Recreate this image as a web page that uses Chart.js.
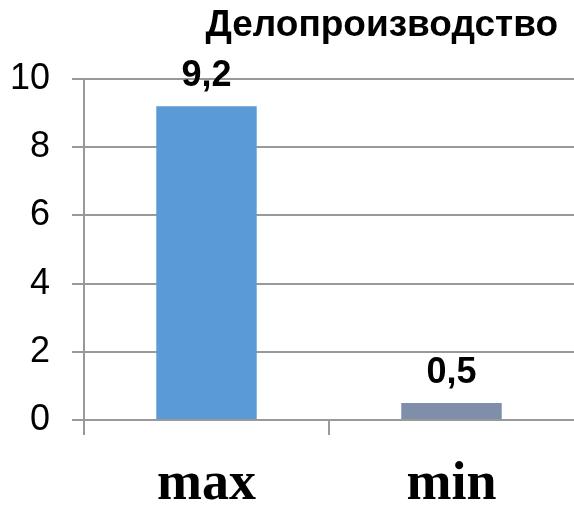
<!DOCTYPE html>
<html>
<head>
<meta charset="utf-8">
<script src="https://cdn.jsdelivr.net/npm/chart.js@4"></script>
<style>
  html, body { margin: 0; padding: 0; background: #fff; }
  #wrap { width: 574px; height: 505px; }
</style>
</head>
<body>
<div id="wrap"><canvas id="myChart"></canvas></div>
<script>
const title = 'Делопроизводство';
const labels = ['max', 'min'];
const values = [9.2, 0.5];
const colors = ['#5b9bd5', '#7f8fa9'];

// value labels above the bars
const barLabels = {
    id: 'barLabels',
    afterDatasetsDraw(chart) {
        const ctx = chart.ctx;
        const meta = chart.getDatasetMeta(0);
        ctx.save();
        ctx.font = 'bold 36px "Liberation Sans", Arial, sans-serif';
        ctx.fillStyle = '#000';
        ctx.textAlign = 'center';
        ctx.textBaseline = 'alphabetic';
        meta.data.forEach((bar, i) => {
            ctx.fillText(String(values[i]).replace('.', ','), bar.x, bar.y - 20);
        });
        ctx.restore();
    }
};

// title at top right
const topTitle = {
    id: 'topTitle',
    afterDraw(chart) {
        const ctx = chart.ctx;
        ctx.save();
        ctx.font = 'bold 37px "Liberation Sans", Arial, sans-serif';
        ctx.fillStyle = '#000';
        ctx.textAlign = 'right';
        ctx.textBaseline = 'alphabetic';
        ctx.fillText(title, chart.width - 16, 36);
        ctx.restore();
    }
};

const data = {
    labels: labels,
    datasets: [{
        data: values,
        backgroundColor: colors,
        borderWidth: 0,
        barPercentage: 0.41,
        categoryPercentage: 1
    }]
};

const config = {
    type: 'bar',
    data: data,
    options: {
        responsive: true,
        maintainAspectRatio: false,
        animation: false,
        layout: { padding: { top: 79, left: 12, right: 0, bottom: 0 } },
        plugins: {
            legend: { display: false },
            title: { display: false },
            tooltip: { enabled: false }
        },
        scales: {
            x: {
                afterFit(scale) {
                    scale.height = 85;
                    scale.paddingLeft = 0;
                    scale.paddingRight = 0;
                },
                grid: {
                    display: true,
                    drawOnChartArea: false,
                    drawTicks: true,
                    tickLength: 15,
                    // the right-hand tick sits off the edge in the original
                    color: (c) => c.tick ? '#999' : 'rgba(0,0,0,0)',
                    lineWidth: 2
                },
                border: { display: true, color: '#999', width: 2 },
                ticks: {
                    color: '#000',
                    padding: 23,
                    font: { family: '"Liberation Serif", "Times New Roman", serif', size: 54, weight: 'bold', lineHeight: 1.0 }
                }
            },
            y: {
                min: 0,
                max: 10,
                afterFit(scale) {
                    scale.width = 72;
                },
                ticks: {
                    stepSize: 2,
                    color: '#000',
                    padding: 22,
                    font: { family: '"Liberation Sans", Arial, sans-serif', size: 36 }
                },
                grid: { color: '#999', lineWidth: 2, tickLength: 12 },
                border: { display: true, color: '#999', width: 2 }
            }
        }
    },
    plugins: [barLabels, topTitle]
};

new Chart(document.getElementById('myChart'), config);
</script>
</body>
</html>
